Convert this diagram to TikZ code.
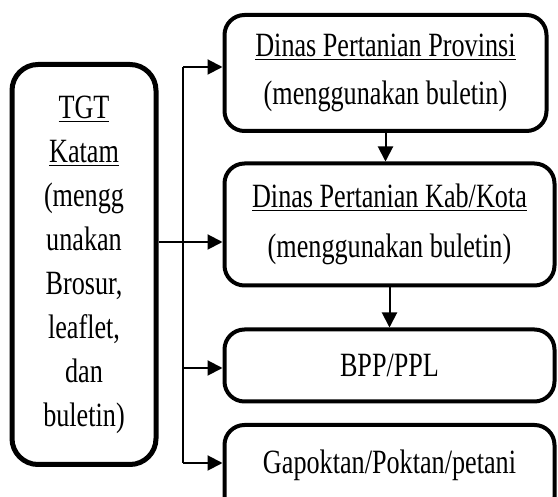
\documentclass[tikz,border=0pt]{standalone}
\usepackage{fontspec}
\setmainfont{Liberation Serif}[FakeStretch=0.77]
\usetikzlibrary{arrows.meta}

\begin{document}
\begin{tikzpicture}[x=0.5pt, y=-0.5pt,
		box/.style={draw, line width=2pt, rounded corners=10pt, align=center, inner sep=0pt},
		arr/.style={-{Triangle[length=7.5pt, width=7.5pt]}, line width=1pt}]
		\useasboundingbox (0,0) rectangle (558,497);
		
		\node [box, line width=2.5pt, rounded corners=13pt, minimum width=72pt, minimum height=200pt, font=\fontsize{17}{22}\selectfont] (tgt) at (84,264.5)
			{\underline{TGT}\\ \underline{Katam}\\ (mengg\\ unakan\\ Brosur,\\ leaflet,\\ dan\\ buletin)};
		
		\node [box, minimum width=161pt, minimum height=58pt, font=\fontsize{17}{24}\selectfont] (prov) at (385.5,73)
			{\underline{Dinas Pertanian Provinsi}\\ (menggunakan buletin)};
		\node [box, minimum width=165pt, minimum height=61pt, font=\fontsize{17}{25}\selectfont] (kab) at (389.5,224.5)
			{\underline{Dinas Pertanian Kab/Kota}\\ (menggunakan buletin)};
		\node [box, minimum width=165pt, minimum height=36pt, font=\fontsize{17}{20}\selectfont] (bpp) at (389.5,365.5) {BPP/PPL};
		\node [box, minimum width=165pt, minimum height=46pt, text depth=9.5pt, font=\fontsize{17}{20}\selectfont] (tani) at (389.5,471) {Gapoktan/Poktan/petani};
		
	%	bus to the right boxes
		\coordinate (top) at (183,67);
		\coordinate (hub) at (183,242);
		\coordinate (mid) at (183,368);
		\coordinate (bot) at (183,463);
		
		\draw [line width=1pt] (top) -- (bot);
		\draw [arr] (top) -- (prov.west |- top);
		\draw [arr] (tgt.east |- hub) -- (kab.west |- hub);
		\draw [arr] (mid) -- (bpp.west |- mid);
		\draw [arr] (bot) -- (tani.west |- bot);
		
		\draw [arr] (prov.south) -- (prov.south |- kab.north);
		\draw [arr] (kab.south) -- (kab.south |- bpp.north);
	\end{tikzpicture}
\end{document}
